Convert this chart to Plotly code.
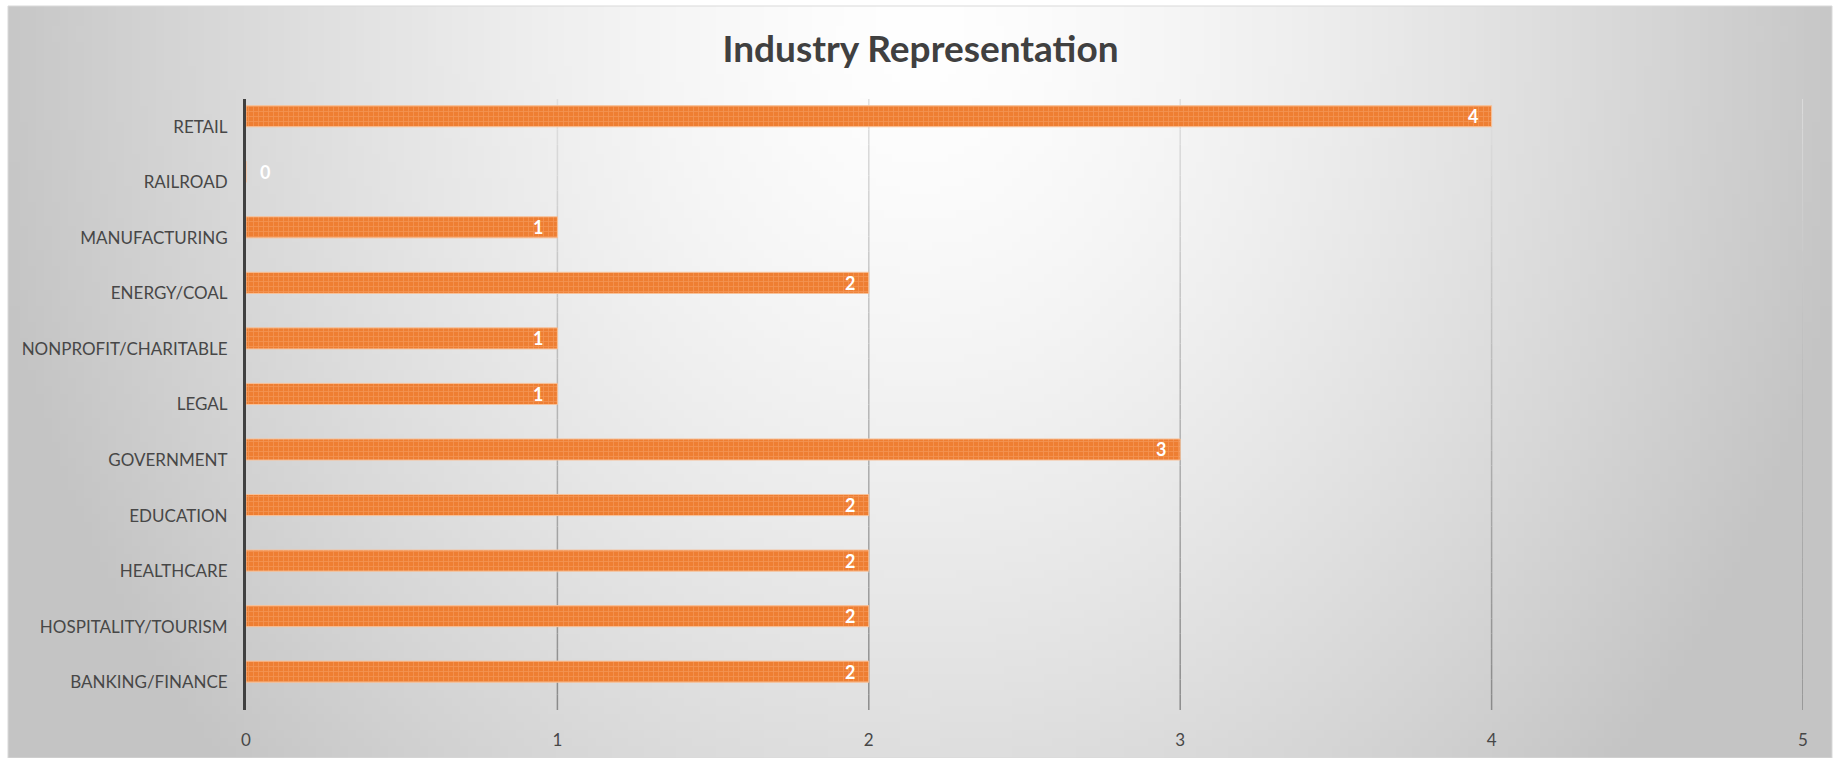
import base64
import struct
import zlib

import numpy as np
import plotly.graph_objects as go

# Industry counts, listed bottom-to-top as drawn on the category axis
industries = [
    "BANKING/FINANCE",
    "HOSPITALITY/TOURISM",
    "HEALTHCARE",
    "EDUCATION",
    "GOVERNMENT",
    "LEGAL",
    "NONPROFIT/CHARITABLE",
    "ENERGY/COAL",
    "MANUFACTURING",
    "RAILROAD",
    "RETAIL",
]
counts = [2, 2, 2, 2, 3, 1, 1, 2, 1, 0, 4]
x_ticks = [0, 1, 2, 3, 4, 5]

W, H = 1841, 758
# plot-area pixel box inside the page
PL, PR, PT, PB = 246, 1803, 99, 710
# chart-area box (grey panel)
CL, CR, CT, CB = 8, 1832, 6, 758

# bar thickness as a fraction of one category slot; bars sit in the upper half
BAR_W = 0.38


def png_data_uri(gray):
    """Encode a 2-D uint8 array as a greyscale PNG data URI."""
    h, w = gray.shape
    raw = b"".join(b"\x00" + gray[r].tobytes() for r in range(h))

    def chunk(tag, data):
        c = struct.pack(">I", len(data)) + tag + data
        return c + struct.pack(">I", zlib.crc32(tag + data) & 0xFFFFFFFF)

    png = b"\x89PNG\r\n\x1a\n"
    png += chunk(b"IHDR", struct.pack(">IIBBBBB", w, h, 8, 0, 0, 0, 0))
    png += chunk(b"IDAT", zlib.compress(raw, 9))
    png += chunk(b"IEND", b"")
    return "data:image/png;base64," + base64.b64encode(png).decode()


# radial background: white near the top centre, fading to grey at the edges
gw, gh = 228, 94
cw, ch = CR - CL, CB - CT
xs = (np.arange(gw) + 0.5) / gw * cw
ys = (np.arange(gh) + 0.5) / gh * ch
X, Y = np.meshgrid(xs, ys)
cx, cy = 912.0, 30.0
t = np.sqrt(((X - cx) / 950.0) ** 2 + ((Y - cy) / 1100.0) ** 2)
t = np.clip(t, 0, 1)
shade = 255 - (255 - 196) * t ** 1.4
bg_uri = png_data_uri(shade.astype(np.uint8))

pw, ph = PR - PL, PB - PT
slot_px = ph / len(industries)


def px_to_paper_x(px):
    return (px - PL) / pw


def px_to_paper_y(py):
    return (PB - py) / ph


fig = go.Figure()

fig.add_trace(
    go.Bar(
        x=counts,
        y=industries,
        orientation="h",
        width=BAR_W,
        offset=0,
        marker=dict(
            color="#EE7E32",
            line=dict(color="#F7C29B", width=1),
            pattern=dict(shape="+", fgcolor="#F6A872", size=5, solidity=0.3),
        ),
        hoverinfo="x+y",
    )
)

# value labels at the inner end of each bar
label_shift = BAR_W * slot_px / 2
annotations = []
for name, v in zip(industries, counts):
    annotations.append(
        dict(
            x=v,
            y=name,
            xref="x",
            yref="y",
            text=str(v),
            showarrow=False,
            xanchor="left" if v == 0 else "right",
            xshift=12 if v == 0 else -12,
            yshift=label_shift,
            font=dict(family="Lato", size=18, color="white", weight="bold"),
        )
    )

# vertical gridlines shaded light at the top to darker at the bottom
shapes = []
n_seg = 40
for xv in x_ticks[1:]:
    for i in range(n_seg):
        y0 = i / n_seg
        y1 = (i + 1) / n_seg
        f = 1 - (y0 + y1) / 2
        g = int(round(224 + (138 - 224) * f))
        shapes.append(
            dict(
                type="line",
                xref="x",
                yref="paper",
                x0=xv,
                x1=xv,
                y0=y0,
                y1=y1,
                line=dict(color=f"rgb({g},{g},{g})", width=1.5),
                layer="below",
            )
        )

# thin frame around the grey chart panel
shapes.append(
    dict(
        type="rect",
        xref="paper",
        yref="paper",
        x0=px_to_paper_x(CL),
        x1=px_to_paper_x(CR),
        y0=px_to_paper_y(CB),
        y1=px_to_paper_y(CT),
        line=dict(color="#D9D9D9", width=1),
        layer="below",
    )
)

fig.update_layout(
    width=W,
    height=H,
    margin=dict(l=PL, r=W - PR, t=PT, b=H - PB, autoexpand=False),
    paper_bgcolor="white",
    plot_bgcolor="rgba(0,0,0,0)",
    showlegend=False,
    title=dict(
        text="Industry Representation",
        x=0.5,
        xref="container",
        xanchor="center",
        y=1 - 49 / H,
        yref="container",
        yanchor="middle",
        font=dict(family="Lato", size=37, color="#404040", weight="bold"),
    ),
    xaxis=dict(
        range=[0, 5],
        tickvals=x_ticks,
        showgrid=False,
        zeroline=False,
        showline=False,
        ticks="",
        ticklabelstandoff=18,
        tickfont=dict(family="Lato", size=17, color="#474747"),
        fixedrange=True,
    ),
    yaxis=dict(
        type="category",
        categoryorder="array",
        categoryarray=industries,
        range=[-0.5, len(industries) - 0.5],
        showgrid=False,
        zeroline=False,
        showline=True,
        linecolor="#404040",
        linewidth=3,
        ticks="",
        ticklabelstandoff=12,
        tickfont=dict(family="Lato", size=17, color="#474747"),
        fixedrange=True,
    ),
    images=[
        dict(
            source=bg_uri,
            xref="paper",
            yref="paper",
            x=px_to_paper_x(CL),
            y=px_to_paper_y(CT),
            sizex=(CR - CL) / pw,
            sizey=(CB - CT) / ph,
            xanchor="left",
            yanchor="top",
            sizing="stretch",
            layer="below",
        )
    ],
    shapes=shapes,
    annotations=annotations,
)

fig.write_html("out.html")
